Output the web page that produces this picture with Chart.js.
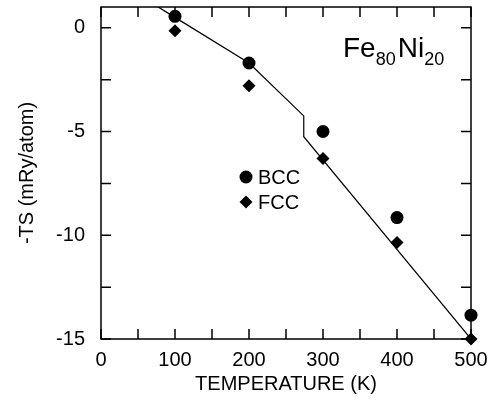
<!DOCTYPE html>
<html>
<head>
<meta charset="utf-8">
<script src="https://cdn.jsdelivr.net/npm/chart.js@4"></script>
<style>
  body { margin: 0; background: #fff; }
  #wrap { width: 493px; height: 403px; position: relative; }
</style>
</head>
<body>
<div id="wrap"><canvas id="chart"></canvas></div>
<script>
// Fe80Ni20 entropy term -TS vs temperature

const temps = [100, 200, 300, 400, 500];
const bccValues = [0.55, -1.7, -5.0, -9.15, -13.85];
const fccValues = [-0.15, -2.8, -6.3, -10.35, -15.0];

// fitted curve (kink at the magnetic transition)
const curveTemps = [75, 100, 200, 274, 274, 500];
const curveValues = [1.05, 0.5, -1.7, -4.25, -5.25, -15.0];

const xTicks = [0, 100, 200, 300, 400, 500];
const yTicks = [0, -5, -10, -15];

const FONT = "'Liberation Sans', Arial, sans-serif";

// frame, inward ticks on all four sides, legend and label
const framePlugin = {
  id: 'frame',
  beforeDatasetsDraw(chart) {
    const { ctx, chartArea: a, scales } = chart;
    const xs = scales.x, ys = scales.y;
    ctx.save();
    ctx.strokeStyle = '#000';
    ctx.lineWidth = 1.5;
    ctx.strokeRect(a.left, a.top, a.right - a.left, a.bottom - a.top);
    ctx.beginPath();
    for (let v = 0; v <= 500; v += 50) {
      const px = xs.getPixelForValue(v);
      ctx.moveTo(px, a.bottom); ctx.lineTo(px, a.bottom - 10);
      ctx.moveTo(px, a.top); ctx.lineTo(px, a.top + 10);
    }
    for (let v = -15; v <= 1; v += 2.5) {
      const py = ys.getPixelForValue(v);
      ctx.moveTo(a.left, py); ctx.lineTo(a.left + 10, py);
      ctx.moveTo(a.right, py); ctx.lineTo(a.right - 10, py);
    }
    ctx.stroke();
    ctx.restore();
  },
  afterDraw(chart) {
    const { ctx, chartArea: a } = chart;
    ctx.save();
    ctx.fillStyle = '#000';

    // legend
    const lx = a.left + 145, ly = a.top + 170;
    ctx.beginPath();
    ctx.arc(lx, ly, 6.5, 0, Math.PI * 2);
    ctx.fill();
    ctx.beginPath();
    ctx.moveTo(lx - 6.5, ly + 25);
    ctx.lineTo(lx, ly + 25 - 6.5);
    ctx.lineTo(lx + 6.5, ly + 25);
    ctx.lineTo(lx, ly + 25 + 6.5);
    ctx.closePath();
    ctx.fill();
    ctx.font = '20px ' + FONT;
    ctx.textBaseline = 'middle';
    ctx.textAlign = 'left';
    ctx.fillText('BCC', lx + 12, ly + 1);
    ctx.fillText('FCC', lx + 12, ly + 26);

    // alloy label
    ctx.textBaseline = 'alphabetic';
    let tx = a.left + 242;
    const by = a.top + 50;
    ctx.font = '28px ' + FONT;
    ctx.fillText('Fe', tx, by);
    tx += ctx.measureText('Fe').width;
    ctx.font = '18px ' + FONT;
    ctx.fillText('80', tx, by + 8);
    tx += ctx.measureText('80').width + 2;
    ctx.font = '28px ' + FONT;
    ctx.fillText('Ni', tx, by);
    tx += ctx.measureText('Ni').width;
    ctx.font = '18px ' + FONT;
    ctx.fillText('20', tx, by + 8);
    ctx.restore();
  }
};

new Chart(document.getElementById('chart'), {
  type: 'scatter',
  data: {
    datasets: [
      {
        label: 'fit',
        data: curveTemps.map((t, i) => ({ x: t, y: curveValues[i] })),
        showLine: true,
        borderColor: '#000',
        borderWidth: 1.2,
        pointRadius: 0,
        fill: false
      },
      {
        label: 'BCC',
        data: temps.map((t, i) => ({ x: t, y: bccValues[i] })),
        pointStyle: 'circle',
        pointRadius: 6.5,
        backgroundColor: '#000',
        borderColor: '#000',
        borderWidth: 0,
        clip: false
      },
      {
        label: 'FCC',
        data: temps.map((t, i) => ({ x: t, y: fccValues[i] })),
        pointStyle: 'rectRot',
        pointRadius: 6.5,
        backgroundColor: '#000',
        borderColor: '#000',
        borderWidth: 0,
        clip: false
      }
    ]
  },
  options: {
    responsive: true,
    maintainAspectRatio: false,
    animation: false,
    layout: { padding: { left: 0, top: 7, right: 22, bottom: 0 } },
    plugins: {
      legend: { display: false },
      tooltip: { enabled: false }
    },
    scales: {
      x: {
        type: 'linear',
        min: 0,
        max: 500,
        afterBuildTicks: scale => { scale.ticks = xTicks.map(v => ({ value: v })); },
        afterFit: scale => {
          scale.height = 64;
          scale.paddingLeft = 0;
          scale.paddingRight = 0;
        },
        grid: { drawOnChartArea: false, drawTicks: false },
        border: { display: false },
        ticks: {
          padding: 9,
          color: '#000',
          maxRotation: 0,
          font: { family: FONT, size: 20 }
        },
        title: {
          display: true,
          text: 'TEMPERATURE (K)',
          color: '#000',
          font: { family: FONT, size: 20, lineHeight: 1.2 },
          padding: { top: 0, bottom: 7 }
        }
      },
      y: {
        type: 'linear',
        min: -15,
        max: 1,
        afterBuildTicks: scale => { scale.ticks = yTicks.map(v => ({ value: v })); },
        afterFit: scale => {
          scale.width = 101;
          scale.paddingTop = 0;
          scale.paddingBottom = 0;
        },
        grid: { drawOnChartArea: false, drawTicks: false },
        border: { display: false },
        ticks: {
          padding: 16,
          color: '#000',
          font: { family: FONT, size: 20 }
        },
        title: {
          display: true,
          text: '-TS (mRy/atom)',
          color: '#000',
          font: { family: FONT, size: 20, lineHeight: 1.2 },
          padding: { top: 15, bottom: 0 }
        }
      }
    }
  },
  plugins: [framePlugin]
});
</script>
</body>
</html>
